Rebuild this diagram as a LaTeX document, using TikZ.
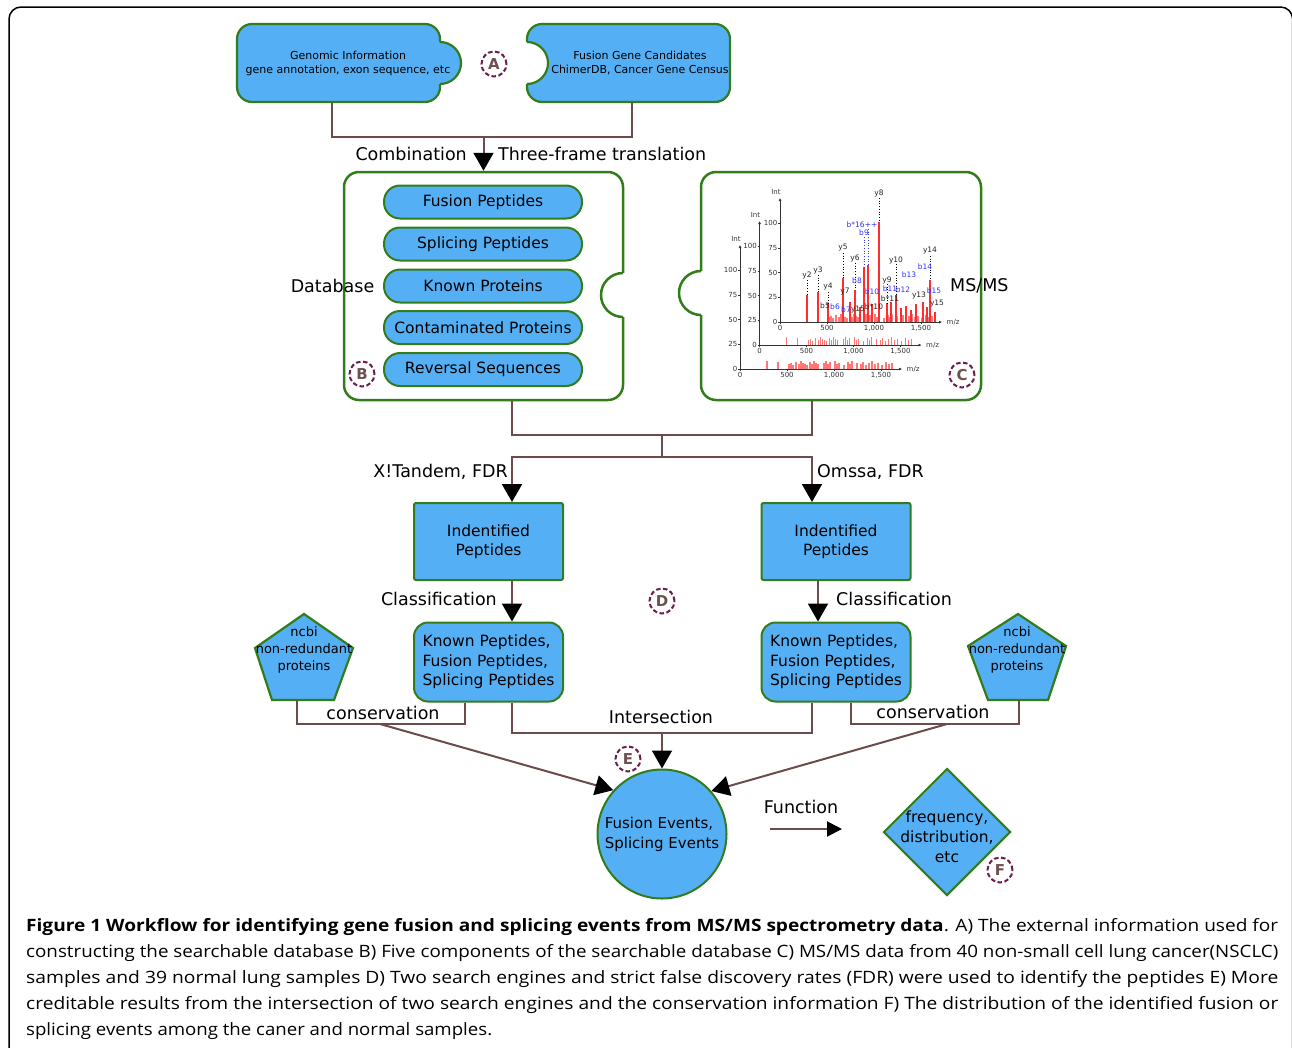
\documentclass[tikz,border=0pt]{standalone}
\usepackage{fontspec}
\usepackage{graphicx}
\setmainfont{DejaVu Sans}
\newfontfamily\capfont{Open Sans}
\usetikzlibrary{arrows.meta,shapes.geometric}
\definecolor{fillb}{RGB}{85,175,245}
\definecolor{gbord}{RGB}{50,125,25}
\definecolor{connc}{RGB}{110,75,75}
\definecolor{lblc}{RGB}{110,30,75}
\definecolor{lblt}{RGB}{110,80,80}
\definecolor{bluelab}{RGB}{50,50,255}
\definecolor{redbar}{RGB}{255,45,45}
\definecolor{pinkbar}{RGB}{255,120,120}
\def\shortbars{27/8,38/7,49/5,51/6,53/4,56/7,59/5,61/8,63/6,65/5,67/4,70/7,72/5,74/8,76/6,78/5,84/6,86/8,88/5,90/7,95/8,97/5,99/6,104/4,108/7,110/5,112/8,117/6,121/5,123/7,126/4,129/6,132/8,135/5,138/6,142/4,146/7,149/5,152/6}
\begin{document}
\begin{tikzpicture}[x=1pt,y=-1pt,
  puz/.style={draw=gbord,fill=fillb,line width=2.2pt,rounded corners=15pt,inner sep=0pt},
  puzline/.style={draw=gbord,line width=2.2pt},
  bigbox/.style={draw=gbord,fill=white,line width=2.5pt,rounded corners=15pt,inner sep=0pt},
  bigline/.style={draw=gbord,line width=2.5pt},
  pill/.style={draw=gbord,fill=fillb,line width=2pt,rounded corners=16pt,minimum width=198pt,minimum height=33pt,inner sep=0pt,font=\fontsize{15.5}{18}\selectfont},
  idbox/.style={draw=gbord,fill=fillb,line width=2pt,rounded corners=2pt,minimum width=149pt,minimum height=77pt,align=center,inner sep=0pt,font=\fontsize{15.5}{19}\selectfont},
  kpbox/.style={draw=gbord,fill=fillb,line width=2pt,rounded corners=14pt,minimum width=149pt,minimum height=79pt,align=left,inner sep=0pt,font=\fontsize{15.5}{19.5}\selectfont},
  lab/.style={font=\fontsize{17.5}{20}\selectfont,inner sep=0pt},
  small/.style={font=\fontsize{11}{14}\selectfont,inner sep=0pt,align=center},
  pent/.style={draw=gbord,fill=fillb,line width=2.2pt,line join=miter},
  pentxt/.style={font=\fontsize{13}{17}\selectfont,inner sep=0pt,align=center},
  cn/.style={draw=connc,line width=2pt},
  arr/.style={-{Triangle[width=20pt,length=18pt,color=black]}},
  tag/.style={circle,draw=lblc,dash pattern=on 4.5pt off 2.5pt,line width=2pt,minimum size=25pt,inner sep=0pt,text=lblt,font=\fontsize{15}{15}\selectfont\bfseries},
  spax/.style={draw=black!80,line width=0.7pt},
  spt/.style={font=\fontsize{7}{7}\selectfont,inner sep=0.5pt,text=black!80},
  pk/.style={font=\fontsize{7.5}{8}\selectfont,inner sep=0pt,text=black!85},
  pkb/.style={font=\fontsize{7.5}{8}\selectfont,inner sep=0pt,text=bluelab},
  bar/.style={draw=pinkbar,line width=1.2pt},
  tbar/.style={draw=redbar,line width=1.3pt},
  dots/.style={draw=black,dotted,line width=0.7pt},
  dotsb/.style={draw=bluelab,dotted,line width=0.7pt}
]
\useasboundingbox (0,0) rectangle (1292,1047);
\clip (0,0) rectangle (1292,1047);
\fill[white] (0,0) rectangle (1292,1047);
% outer frame
\draw[line width=1.5pt,rounded corners=12pt] (9,1100) -- (9,7) -- (1292.6,7) -- (1292.6,1100);

% ---------- (A) ----------
\node[puz,minimum width=203pt,minimum height=78pt] (gen) at (338.5,63) {};
\fill[fillb] (440,63) circle[radius=21pt];
\draw[puzline] (440,42) .. controls (451.6,42) and (461,51.4) .. (461,63) .. controls (461,74.6) and (451.6,84) .. (440,84);
\node[puz,minimum width=203pt,minimum height=78pt] (fus) at (628.5,63) {};
\fill[white] (527,63) circle[radius=21pt];
\draw[puzline] (527,42) .. controls (538.6,42) and (548,51.4) .. (548,63) .. controls (548,74.6) and (538.6,84) .. (527,84);
\node[small] (gentxt) at (348,63) {Genomic Information\\gene annotation, exon sequence, etc};
\node[small] (fustxt) at (640,63) {Fusion Gene Candidates\\ChimerDB, Cancer Gene Census};
\node[tag] (tagA) at (494,64) {A};

% ---------- (B) and (C) boxes ----------
\node[bigbox,minimum width=279pt,minimum height=228pt] (db) at (483.5,286) {};
\fill[white] (623,295) circle[radius=22pt];
\draw[bigline] (623,317) .. controls (610.85,317) and (601,307.15) .. (601,295) .. controls (601,282.85) and (610.85,273) .. (623,273);
\node[bigbox,minimum width=280pt,minimum height=228pt] (ms) at (841,286) {};
\fill[white] (701,293) circle[radius=22pt];
\draw[bigline] (701,315) .. controls (688.85,315) and (679,305.15) .. (679,293) .. controls (679,280.85) and (688.85,271) .. (701,271);

\node[pill] (p1) at (483,202) {Fusion Peptides};
\node[pill] (p2) at (483,244) {Splicing Peptides};
\node[pill] (p3) at (483,286) {Known Proteins};
\node[pill] (p4) at (483,327.5) {Contaminated Proteins};
\node[pill] (p5) at (483,369.5) {Reversal Sequences};
\node[lab] (dblab) at (332.5,286) {Database};
\node[tag] (tagB) at (362,374) {B};
\node[lab,anchor=west] (mslab) at (950,286) {MS/MS};
\node[tag] (tagC) at (962,375) {C};

% ---------- spectrum ----------
\foreach \ox/\oy/\k in {740/369/3,759.5/345/2,780/322/1}{
  \foreach \bx/\bh in \shortbars {
    \draw[bar] ({\ox+\bx},\oy) -- ({\ox+\bx},{\oy-\bh});
  }
  \draw[spax,-{Latex[length=3pt,width=3pt]}] (\ox,\oy) -- ({\ox+162},\oy);
  \draw[spax,-{Latex[length=3pt,width=3pt]}] (\ox,\oy) -- (\ox,{\oy-124});
  \foreach \t/\lbl/\m in {0/0/a,47/500/b,94/{1,000}/c,141/{1,500}/d}{
    \draw[spax] ({\ox+\t},\oy) -- ({\ox+\t},{\oy+2});
    \node[spt,anchor=north] (xt\k-\m) at ({\ox+\t},{\oy+2.5}) {\lbl};
  }
  \foreach \v/\lbl in {0/0,24.7/25,49.4/50,74/75,98.8/100}{
    \draw[spax] ({\ox-2},{\oy-\v}) -- (\ox,{\oy-\v});
    \node[spt,anchor=east] (yt\k-\lbl) at ({\ox-2},{\oy-\v}) {\lbl};
  }
  \node[spt] (int\k) at ({\ox-4},{\oy-130}) {Int};
  \node[spt,anchor=west] (mz\k) at ({\ox+166},\oy) {m/z};
}
% tall bars of front spectrum
\foreach \bx/\bh in {27/27,38/30,48/19,63/44,70/20,75/32,80/15,84/55,88/57,92/18,99/100,107/19,111/20,116/27,121/14,126/16,131/12,136/18,143/20,147/15,150/42,155/10}{
  \draw[tbar] ({780+\bx},322) -- ({780+\bx},{322-\bh});
}
\draw[dots] (807,280) -- (807,295);
\draw[dots] (818,275) -- (818,292);
\draw[dots] (828,292) -- (828,303);
\draw[dots] (843,253) -- (843,278);
\draw[dots] (855,263) -- (855,290);
\draw[dots] (879,198) -- (879,222);
\draw[dots] (887,284) -- (887,303);
\draw[dots] (896,264) -- (896,295);
\draw[dots] (930,256) -- (930,278);
\draw[dotsb] (864,237) -- (864,267);
\draw[dotsb] (868,229) -- (868,265);
\node[pk] (ly2) at (807,275) {y2};
\node[pk] (ly3) at (818,270) {y3};
\node[pk] (ly4) at (828,287) {y4};
\node[pk] (ly5) at (843,248) {y5};
\node[pk] (ly6) at (855,258) {y6};
\node[pk] (ly8) at (879,193) {y8};
\node[pk] (ly9) at (887,280) {y9};
\node[pk] (ly10) at (896,260) {y10};
\node[pk] (ly14) at (930,251) {y14};
\node[pk] (ly7) at (845,292) {y7};
\node[pk] (lb5) at (825,306) {b5};
\node[pk] (ly15a) at (858,310) {y15};
\node[pk] (lbx10) at (874,307) {b*10};
\node[pk] (lbx11) at (890,299) {b*11};
\node[pk] (ly13) at (919,295) {y13};
\node[pk] (ly15b) at (937,304) {y15};
\node[pkb] (lb16) at (862,225) {b*16++};
\node[pkb] (lb9) at (864,233) {b9};
\node[pkb] (lb8) at (857,281) {b8};
\node[pkb] (lb6) at (835,307) {b6};
\node[pkb] (lb7) at (846,310) {b7};
\node[pkb] (lb10) at (872,292) {b10};
\node[pkb] (lb11) at (890,289) {b11};
\node[pkb] (lb12) at (903,290) {b12};
\node[pkb] (lb13) at (909,275) {b13};
\node[pkb] (lb14) at (925,267) {b14};
\node[pkb] (lb15) at (934,291) {b15};

% ---------- connectors top ----------
\coordinate (j1) at (483.5,137);
\draw[cn] ([xshift=-6.5pt]gen.south) |- (j1) -| ([xshift=3.5pt]fus.south);
\draw[cn,arr] (j1) -- (db.north);
\node[lab,anchor=east] (comb) at (467,154) {Combination};
\node[lab,anchor=west] (three) at (498,154) {Three-frame translation};

% ---------- (D) ----------
\node[idbox] (id1) at (488.5,541.5) {Indentified\\Peptides};
\node[idbox] (id2) at (836,541.5) {Indentified\\Peptides};
\coordinate (j2) at (662,435);
\coordinate (j3) at (662,457);
\draw[cn] ([xshift=28.5pt]db.south) |- (j2) -| ([xshift=-29pt]ms.south);
\draw[cn] (j2) -- (j3);
\draw[cn,arr] (j3) -| ([xshift=23.5pt]id1.north);
\draw[cn,arr] (j3) -| ([xshift=-24pt]id2.north);
\node[lab,anchor=east] (xt) at (508,472) {X!Tandem, FDR};
\node[lab,anchor=west] (om) at (817,472) {Omssa, FDR};

\node[kpbox] (kp1) at (488.5,662) {Known Peptides,\\Fusion Peptides,\\Splicing Peptides};
\node[kpbox] (kp2) at (836,662) {Known Peptides,\\Fusion Peptides,\\Splicing Peptides};
\draw[cn,arr] ([xshift=23.5pt]id1.south) -- ([xshift=23.5pt]kp1.north);
\draw[cn,arr] ([xshift=-18pt]id2.south) -- ([xshift=-18pt]kp2.north);
\node[lab,anchor=east] (cl1) at (497,599) {Classification};
\node[lab,anchor=west] (cl2) at (836,599) {Classification};
\node[tag] (tagD) at (662,601) {D};

% ---------- pentagons ----------
\draw[pent] (304,614) -- (353,648) -- (334,700) -- (272,700) -- (255,648) -- cycle;
\draw[pent] (1018,614) -- (1066,646) -- (1048,700) -- (988,700) -- (968,646) -- cycle;
\node[pentxt] (pen1) at (304,650) {ncbi\\non-redundant\\proteins};
\node[pentxt] (pen2) at (1017,650) {ncbi\\non-redundant\\proteins};

% ---------- (E) ----------
\node[circle,draw=gbord,fill=fillb,line width=2pt,minimum size=129pt,inner sep=0pt,align=left,font=\fontsize{15}{20}\selectfont] (ev) at (662,834) {Fusion Events,\\Splicing Events};
\coordinate (pb1) at (297,700);
\coordinate (c1) at (380,724);
\coordinate (pb2) at (1019,700);
\coordinate (c2) at (947,724);
\coordinate (j4) at (662,733);
\draw[cn] (pb1) |- (c1) -| ([xshift=-23.5pt]kp1.south);
\draw[cn] (pb2) |- (c2) -| ([xshift=15pt]kp2.south);
\draw[cn] ([xshift=23.5pt]kp1.south) |- (j4) -| ([xshift=-24pt]kp2.south);
\draw[cn,arr] (j4) -- (ev.north);
\draw[cn,arr] (c1) -- (ev.138);
\draw[cn,arr] (c2) -- (ev.41);
\node[lab] (cons1) at (383,713) {conservation};
\node[lab] (cons2) at (933,712) {conservation};
\node[lab] (inter) at (661,717) {Intersection};
\node[tag] (tagE) at (628,759) {E};

% ---------- (F) ----------
\node[lab] (func) at (801,807) {Function};
\coordinate (fa) at (770,829);
\coordinate (fb) at (842,829);
\draw[cn,-{Triangle[width=15pt,length=15pt,color=black]}] (fa) -- (fb);
\node[diamond,draw=gbord,fill=fillb,line width=2pt,minimum width=127pt,minimum height=127pt,inner sep=0pt] (dia) at (947,832) {};
\node[align=center,inner sep=0pt,font=\fontsize{15.5}{20}\selectfont] (diatxt) at (947,837) {frequency,\\distribution,\\etc};
\node[tag] (tagF) at (1000,870) {F};

% ---------- caption ----------
\node[anchor=base west,inner sep=0pt] (cap1) at (26,931) {\resizebox{1252pt}{\height}{\capfont\fontsize{17}{20}\selectfont\textbf{Figure 1 Workflow for identifying gene fusion and splicing events from MS/MS spectrometry data}. A) The external information used for}};
\node[anchor=base west,inner sep=0pt] (cap2) at (26,957) {\resizebox{1252pt}{\height}{\capfont\fontsize{17}{20}\selectfont constructing the searchable database B) Five components of the searchable database C) MS/MS data from 40 non-small cell lung cancer(NSCLC)}};
\node[anchor=base west,inner sep=0pt] (cap3) at (26,983) {\resizebox{1252pt}{\height}{\capfont\fontsize{17}{20}\selectfont samples and 39 normal lung samples D) Two search engines and strict false discovery rates (FDR) were used to identify the peptides E) More}};
\node[anchor=base west,inner sep=0pt] (cap4) at (26,1009) {\resizebox{1252pt}{\height}{\capfont\fontsize{17}{20}\selectfont creditable results from the intersection of two search engines and the conservation information F) The distribution of the identified fusion or}};
\node[anchor=base west,inner sep=0pt] (cap5) at (26,1035) {\resizebox{466pt}{\height}{\capfont\fontsize{17}{20}\selectfont splicing events among the caner and normal samples.}};
\end{tikzpicture}
\end{document}
